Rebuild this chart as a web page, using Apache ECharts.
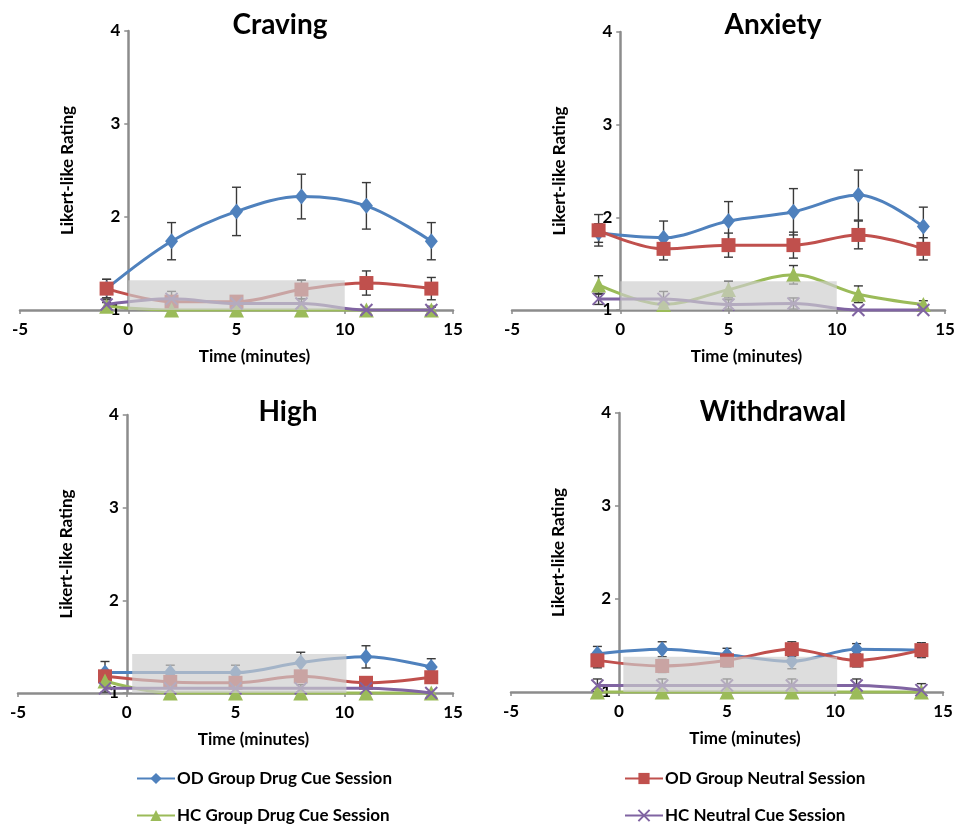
<!DOCTYPE html>
<html>
<head>
<meta charset="utf-8">
<script src="https://cdn.jsdelivr.net/npm/echarts@6/dist/echarts.min.js"></script>
<style>
html,body{margin:0;padding:0;background:#fff;}
#c{width:956px;height:825px;}
</style>
</head>
<body>
<div id="c"></div>
<script>
// ---- Data ----
const times = [-1, 2, 5, 8, 11, 14];
const panelTitles = ['Craving', 'Anxiety', 'High', 'Withdrawal'];
const seriesNames = ['OD Group Drug Cue Session', 'OD Group Neutral Session', 'HC Group Drug Cue Session', 'HC Neutral Cue Session'];
const xTicks = [-5, 0, 5, 10, 15];
const yTicks = [1, 2, 3, 4];

// Craving
const cravODDrug = [1.23, 1.74, 2.06, 2.22, 2.12, 1.74];
const cravODDrugErr = [0.10, 0.20, 0.26, 0.24, 0.25, 0.20];
const cravODNeut = [1.23, 1.09, 1.09, 1.22, 1.29, 1.23];
const cravODNeutErr = [0.10, 0.06, 0.05, 0.10, 0.13, 0.12];
const cravHCDrug = [1.04, 1.00, 1.00, 1.00, 1.00, 1.00];
const cravHCDrugErr = [0.04, 0, 0, 0, 0, 0.03];
const cravHCNeut = [1.06, 1.12, 1.07, 1.07, 1.00, 1.00];
const cravHCNeutErr = [0.05, 0.08, 0.04, 0.05, 0, 0.04];

// Anxiety
const anxODDrug = [1.83, 1.78, 1.96, 2.06, 2.24, 1.90];
const anxODDrugErr = [0.10, 0.18, 0.21, 0.25, 0.27, 0.21];
const anxODNeut = [1.86, 1.66, 1.70, 1.70, 1.81, 1.66];
const anxODNeutErr = [0.17, 0.12, 0.13, 0.14, 0.15, 0.12];
const anxHCDrug = [1.27, 1.06, 1.22, 1.38, 1.17, 1.06];
const anxHCDrugErr = [0.10, 0.05, 0.09, 0.10, 0.09, 0.04];
const anxHCNeut = [1.12, 1.12, 1.06, 1.07, 1.00, 1.00];
const anxHCNeutErr = [0.06, 0.08, 0.05, 0.06, 0, 0];

// High
const highODDrug = [1.22, 1.22, 1.22, 1.33, 1.39, 1.28];
const highODDrugErr = [0.12, 0.08, 0.08, 0.11, 0.12, 0.09];
const highODNeut = [1.18, 1.12, 1.11, 1.18, 1.11, 1.17];
const highODNeutErr = [0.05, 0.04, 0.04, 0.05, 0.04, 0.05];
const highHCDrug = [1.13, 1.00, 1.00, 1.00, 1.00, 1.00];
const highHCDrugErr = [0.05, 0, 0, 0, 0, 0];
const highHCNeut = [1.05, 1.05, 1.05, 1.05, 1.05, 1.00];
const highHCNeutErr = [0.04, 0.04, 0.04, 0.04, 0.04, 0];

// Withdrawal
const wdODDrug = [1.41, 1.46, 1.40, 1.33, 1.46, 1.45];
const wdODDrugErr = [0.08, 0.08, 0.07, 0.08, 0.06, 0.06];
const wdODNeut = [1.34, 1.28, 1.34, 1.46, 1.34, 1.45];
const wdODNeutErr = [0.08, 0.07, 0.07, 0.08, 0.07, 0.08];
const wdHCDrug = [1.00, 1.00, 1.00, 1.00, 1.00, 1.00];
const wdHCDrugErr = [0, 0, 0, 0, 0, 0];
const wdHCNeut = [1.07, 1.07, 1.07, 1.07, 1.07, 1.02];
const wdHCNeutErr = [0.07, 0.07, 0.07, 0.07, 0.07, 0.07];

// Cue exposure window (shaded region) per panel: start, end, top
const cueStart = [0, 0, 0.25, 0.2];
const cueEnd = [10, 10, 10.1, 10.1];
const cueBoxTop = [1.32, 1.31, 1.42, 1.38];

// ---- Build ----
const panelMeans = [
  [cravODDrug, cravODNeut, cravHCDrug, cravHCNeut],
  [anxODDrug, anxODNeut, anxHCDrug, anxHCNeut],
  [highODDrug, highODNeut, highHCDrug, highHCNeut],
  [wdODDrug, wdODNeut, wdHCDrug, wdHCNeut]
];
const panelErrs = [
  [cravODDrugErr, cravODNeutErr, cravHCDrugErr, cravHCNeutErr],
  [anxODDrugErr, anxODNeutErr, anxHCDrugErr, anxHCNeutErr],
  [highODDrugErr, highODNeutErr, highHCDrugErr, highHCNeutErr],
  [wdODDrugErr, wdODNeutErr, wdHCDrugErr, wdHCNeutErr]
];

const W = 956, H = 825;
const FONT = 'Lato';
const colors = ['#4F81BD', '#C0504D', '#9BBB59', '#8064A2'];
const symbols = ['diamond', 'rect', 'triangle', 'path://M0,0L10,10M10,0L0,10'];
const symbolSizes = [[13, 16], 14, 15, 12];

const grids = [
  {left: 20, right: 503, top: 31, bottom: 515},
  {left: 512, right: 11, top: 32, bottom: 515},
  {left: 18, right: 503, top: 415, bottom: 132},
  {left: 511, right: 13, top: 413, bottom: 133}
].map(g => Object.assign(g, {containLabel: false, outerBoundsMode: 'none'}));
const titlePos = [[280, 25], [773, 25], [288, 412], [773, 412]];

function errRender(params, api) {
  const x = api.value(0), lo = api.value(1), hi = api.value(2);
  const p1 = api.coord([x, hi]);
  const p2 = api.coord([x, lo]);
  const w = 4.5;
  const style = {stroke: '#3a3a3a', lineWidth: 1.4};
  return {
    type: 'group',
    children: [
      {type: 'line', shape: {x1: p1[0], y1: p1[1], x2: p2[0], y2: p2[1]}, style: style},
      {type: 'line', shape: {x1: p1[0] - w, y1: p1[1], x2: p1[0] + w, y2: p1[1]}, style: style},
      {type: 'line', shape: {x1: p2[0] - w, y1: p2[1], x2: p2[0] + w, y2: p2[1]}, style: style}
    ]
  };
}

const xMin = xTicks[0], xMax = xTicks[xTicks.length - 1];
const xAxes = [], yAxes = [], series = [], graphics = [];
grids.forEach((g, p) => {
  const gw = W - g.left - g.right;
  // y axis crosses the x axis at x = 0
  const yOffset = -gw * (0 - xMin) / (xMax - xMin);
  xAxes.push({
    type: 'value', gridIndex: p, min: xMin, max: xMax, interval: 5,
    position: 'bottom',
    axisLine: {onZero: false, lineStyle: {color: '#8c8c8c', width: 2.5}},
    axisTick: {show: true, length: 4, lineStyle: {color: '#8c8c8c', width: 1.5}},
    splitLine: {show: false},
    axisLabel: {fontFamily: FONT, fontWeight: 'bold', fontSize: 17, color: '#000', margin: 11},
    name: 'Time (minutes)', nameLocation: 'middle', nameGap: 38,
    nameTextStyle: {fontFamily: FONT, fontWeight: 'bold', fontSize: 17, color: '#000', padding: [0, 0, 0, 36]}
  });
  yAxes.push({
    type: 'value', gridIndex: p, min: yTicks[0], max: yTicks[yTicks.length - 1], interval: 1,
    position: 'left', offset: yOffset,
    axisLine: {show: true, onZero: false, lineStyle: {color: '#8c8c8c', width: 2.5}},
    axisTick: {show: true, length: 4, lineStyle: {color: '#8c8c8c', width: 1.5}},
    splitLine: {show: false},
    axisLabel: {fontFamily: FONT, fontWeight: 'bold', fontSize: 17, color: '#000', margin: 8, showMinLabel: true},
    name: 'Likert-like Rating', nameLocation: 'middle', nameGap: 52,
    nameTextStyle: {fontFamily: FONT, fontWeight: 'bold', fontSize: 17, color: '#000'}
  });

  // error bars (beneath lines)
  for (let s = 0; s < 4; s++) {
    const m = panelMeans[p][s], e = panelErrs[p][s];
    const data = [];
    times.forEach((t, i) => { if (e[i] > 0) data.push([t, m[i] - e[i], m[i] + e[i]]); });
    series.push({
      type: 'custom', name: seriesNames[s] + ' err', xAxisIndex: p, yAxisIndex: p,
      renderItem: errRender, data: data, z: 1, clip: true, silent: true,
      encode: {x: 0, y: [1, 2]}
    });
  }
  // lines
  for (let s = 0; s < 4; s++) {
    const m = panelMeans[p][s];
    const ser = {
      type: 'line', name: seriesNames[s], xAxisIndex: p, yAxisIndex: p,
      data: times.map((t, i) => [t, m[i]]),
      smooth: 0.35, symbol: symbols[s], symbolSize: symbolSizes[s],
      lineStyle: {color: colors[s], width: 3},
      itemStyle: s === 3 ? {color: colors[s], borderColor: colors[s], borderWidth: 2} : {color: colors[s]},
      z: 2 + s * 0.1, clip: false
    };
    if (s === 3) {
      ser.markArea = {
        silent: true, z: 10,
        itemStyle: {color: 'rgba(205,205,205,0.68)'},
        data: [[{coord: [cueStart[p], 1]}, {coord: [cueEnd[p], cueBoxTop[p]]}]]
      };
    }
    series.push(ser);
  }
  graphics.push({
    type: 'text', x: titlePos[p][0], y: titlePos[p][1], z: 20,
    style: {text: panelTitles[p], textAlign: 'center', textVerticalAlign: 'middle',
      font: 'bold 28px ' + FONT, fill: '#000'}
  });
});

const legendPos = [[136, 770], [624, 770], [136, 807], [624, 807]];
const legends = seriesNames.map((n, i) => ({
  data: [n], left: legendPos[i][0], top: legendPos[i][1], orient: 'horizontal', padding: 0,
  itemWidth: 38, itemHeight: 14, itemGap: 10, selectedMode: false,
  textStyle: {fontFamily: FONT, fontWeight: 'bold', fontSize: 17, color: '#000', padding: [0, 0, 0, -3]}
}));

const chart = echarts.init(document.getElementById('c'), null, {renderer: 'canvas'});
chart.setOption({
  backgroundColor: '#fff',
  animation: false,
  grid: grids,
  xAxis: xAxes,
  yAxis: yAxes,
  legend: legends,
  graphic: graphics,
  series: series
});
</script>
</body>
</html>
